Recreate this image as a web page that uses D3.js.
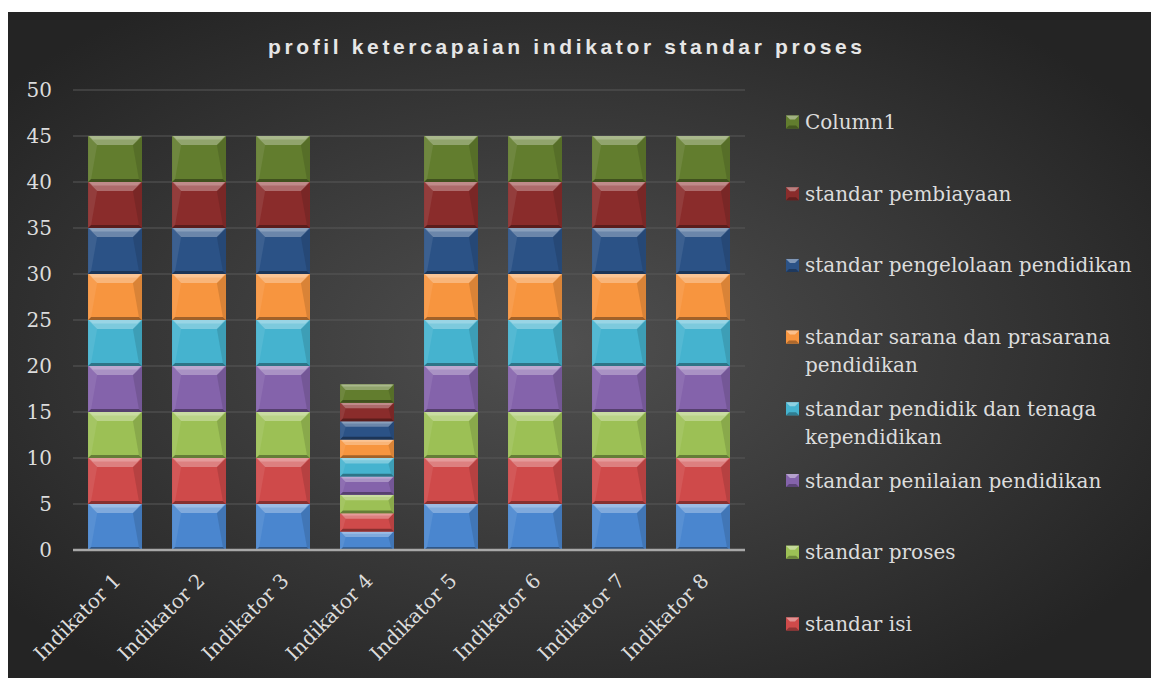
<!DOCTYPE html>
<html><head><meta charset="utf-8">
<script src="https://cdn.jsdelivr.net/npm/d3@7"></script>
<style>
html,body{margin:0;padding:0;background:#fff;}
svg{display:block;}
</style>
</head><body>
<svg id="chart" width="1151" height="678"></svg>
<script>
// ---- data ----
const categories = ["Indikator 1","Indikator 2","Indikator 3","Indikator 4","Indikator 5","Indikator 6","Indikator 7","Indikator 8"];
const seriesNames = ["standar kompetensi lulusan","standar isi","standar proses","standar penilaian pendidikan","standar pendidik dan tenaga kependidikan","standar sarana dan prasarana pendidikan","standar pengelolaan pendidikan","standar pembiayaan","Column1"];
const kompetensiLulusan = [5,5,5,2,5,5,5,5];
const standarIsi        = [5,5,5,2,5,5,5,5];
const standarProses     = [5,5,5,2,5,5,5,5];
const standarPenilaian  = [5,5,5,2,5,5,5,5];
const standarPendidik   = [5,5,5,2,5,5,5,5];
const standarSarana     = [5,5,5,2,5,5,5,5];
const standarPengelolaan= [5,5,5,2,5,5,5,5];
const standarPembiayaan = [5,5,5,2,5,5,5,5];
const column1           = [5,5,5,2,5,5,5,5];
const seriesValues = [kompetensiLulusan,standarIsi,standarProses,standarPenilaian,standarPendidik,standarSarana,standarPengelolaan,standarPembiayaan,column1];
const seriesColors = ["#4a86cf","#cf4a4a","#9cc055","#8463ab","#45b3cf","#f7953f","#2b5286","#8a2c2b","#627d2e"];
const yTicks = [0,5,10,15,20,25,30,35,40,45,50];
// visible legend entries (the last series' entry falls below the chart edge)
const legendLabels = [
  ["Column1"],
  ["standar pembiayaan"],
  ["standar pengelolaan pendidikan"],
  ["standar sarana dan prasarana","pendidikan"],
  ["standar pendidik dan tenaga","kependidikan"],
  ["standar penilaian pendidikan"],
  ["standar proses"],
  ["standar isi"]
];
const legendSeriesIndex = [8,7,6,5,4,3,2,1];

// ---- setup ----
const FONT = "DejaVu Serif, Cambria, serif";
const svg = d3.select("#chart");
const defs = svg.append("defs");
const bg = defs.append("radialGradient").attr("id","bg").attr("cx","48%").attr("cy","50%").attr("r","62%");
bg.append("stop").attr("offset","0%").attr("stop-color","#505050");
bg.append("stop").attr("offset","100%").attr("stop-color","#242424");

svg.append("rect").attr("x",8).attr("y",12).attr("width",1143).attr("height",666).attr("fill","url(#bg)");

svg.append("text").attr("x",565).attr("y",54).attr("text-anchor","middle")
  .attr("font-family","Liberation Sans, Arial, sans-serif").attr("font-weight","bold")
  .attr("font-size",21).attr("fill","#e6e6e6")
  .attr("textLength",594).attr("lengthAdjust","spacing")
  .text("profil ketercapaian indikator standar proses");

const x = d3.scaleBand().domain(categories).range([73,745]).paddingInner(0.36).paddingOuter(0.18);
const y = d3.scaleLinear().domain([0,50]).range([550,90]);

// gridlines
svg.append("g").selectAll("line").data(yTicks.filter(d=>d>0)).join("line")
  .attr("x1",73).attr("x2",745).attr("y1",d=>y(d)).attr("y2",d=>y(d))
  .attr("stroke","#585858").attr("stroke-width",1);

// y axis
const yAxis = svg.append("g").attr("transform","translate(73,0)")
  .call(d3.axisLeft(y).tickValues(yTicks).tickSize(0).tickPadding(21));
yAxis.select(".domain").remove();
yAxis.selectAll("text").attr("font-family",FONT).attr("font-size",20).attr("fill","#dcdcdc");

// stacked data
const tableRows = categories.map((c,i)=>{const r={cat:c}; seriesNames.forEach((s,j)=>r[s]=seriesValues[j][i]); return r;});
const stack = d3.stack().keys(seriesNames)(tableRows);

function mix(c, t, amt){ return d3.interpolateRgb(c,t)(amt); }

const gBars = svg.append("g");
stack.forEach((layer,si)=>{
  const col = seriesColors[si];
  layer.forEach(d=>{
    const x0 = x(d.data.cat), w = x.bandwidth();
    const y0 = y(d[1]), y1 = y(d[0]), h = y1-y0;
    const b = Math.min(9, h*0.3);
    const bb = Math.min(3, h*0.15);
    const g = gBars.append("g");
    g.append("rect").attr("x",x0).attr("y",y0).attr("width",w).attr("height",h).attr("fill",col);
    // left bevel
    g.append("polygon").attr("points",`${x0},${y0} ${x0+b},${y0+b} ${x0+bb},${y1-bb} ${x0},${y1}`).attr("fill",mix(col,"#ffffff",0.08));
    // right bevel
    g.append("polygon").attr("points",`${x0+w},${y0} ${x0+w-b},${y0+b} ${x0+w-bb},${y1-bb} ${x0+w},${y1}`).attr("fill",mix(col,"#000000",0.12));
    // bottom bevel
    g.append("polygon").attr("points",`${x0},${y1} ${x0+bb},${y1-bb} ${x0+w-bb},${y1-bb} ${x0+w},${y1}`).attr("fill",mix(col,"#000000",0.35));
    // top bevel
    g.append("polygon").attr("points",`${x0},${y0} ${x0+w},${y0} ${x0+w-b},${y0+b} ${x0+b},${y0+b}`).attr("fill",mix(col,"#ffffff",0.3));
    g.append("polygon").attr("points",`${x0+1},${y0} ${x0+w-1},${y0} ${x0+w-1-b*0.4},${y0+b*0.4} ${x0+1+b*0.4},${y0+b*0.4}`).attr("fill",mix(col,"#ffffff",0.45));
  });
});

// baseline
svg.append("line").attr("x1",73).attr("x2",745).attr("y1",y(0)).attr("y2",y(0)).attr("stroke","#a8a8a8").attr("stroke-width",2.5);

// x labels
svg.append("g").selectAll("text").data(categories).join("text")
  .attr("transform",d=>`translate(${x(d)+x.bandwidth()/2+7},${y(0)+32}) rotate(-45)`)
  .attr("text-anchor","end")
  .attr("font-family",FONT).attr("font-size",20).attr("fill","#dcdcdc")
  .text(d=>d);

// legend
const lg = svg.append("g");
legendLabels.forEach((lines,i)=>{
  const cy = 122 + 71.7*i;
  const col = seriesColors[legendSeriesIndex[i]];
  const s = 13, lx = 786, ly = cy-6.5;
  lg.append("rect").attr("x",lx).attr("y",ly).attr("width",s).attr("height",s).attr("fill",col);
  lg.append("polygon").attr("points",`${lx},${ly} ${lx+s},${ly} ${lx+s-4},${ly+4} ${lx+4},${ly+4}`).attr("fill",mix(col,"#ffffff",0.4));
  lg.append("polygon").attr("points",`${lx},${ly+s} ${lx+3},${ly+s-3} ${lx+s-3},${ly+s-3} ${lx+s},${ly+s}`).attr("fill",mix(col,"#000000",0.3));
  const t = lg.append("text").attr("x",805).attr("y",cy+7)
    .attr("font-family",FONT).attr("font-size",20).attr("fill","#dcdcdc");
  lines.forEach((ln,k)=>t.append("tspan").attr("x",805).attr("dy",k===0?0:28).text(ln));
});
</script>
</body></html>
